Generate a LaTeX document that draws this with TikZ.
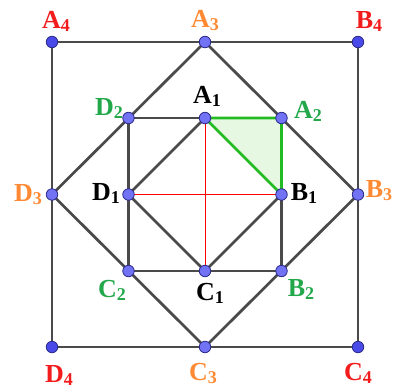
\documentclass[tikz,border=0pt]{standalone}
\usepackage{fontspec}
\setmainfont{Liberation Serif}
\definecolor{lred}{HTML}{F21C1C}
\definecolor{lorange}{HTML}{FF8A33}
\definecolor{lgreen}{HTML}{22A84A}
\definecolor{ptfill}{HTML}{7272F5}
\definecolor{ptdark}{HTML}{4A4AE8}
\definecolor{edge}{HTML}{4A4A4A}
\definecolor{trifill}{HTML}{E6F8E2}
\definecolor{trigreen}{HTML}{22BB22}
\newcommand{\lab}[2]{\textbf{#1\raisebox{-3pt}{\fontsize{18}{18}\selectfont #2}}}
\begin{document}
\begin{tikzpicture}[x=1pt,y=-1pt,
  pt/.style={circle,fill=ptfill,draw=ptdark!60!black,line width=0.8pt,inner sep=0pt,minimum size=11.5pt},
  ptc/.style={pt,fill=ptdark},
  seg/.style={draw=edge,line width=2.7pt},
  redl/.style={draw=red,line width=0.9pt},
  lbl/.style={font=\fontsize{26}{26}\selectfont,inner sep=0pt}]
\useasboundingbox (0,0) rectangle (394,389);
% coordinates
\coordinate (A4) at (52,42);
\coordinate (B4) at (358,42);
\coordinate (C4) at (358,347);
\coordinate (D4) at (52,347);
\coordinate (A3) at (205,42);
\coordinate (B3) at (358,194.5);
\coordinate (C3) at (205,347);
\coordinate (D3) at (52,194.5);
\coordinate (D2) at (128.5,118);
\coordinate (A2) at (281.5,118);
\coordinate (B2) at (281.5,271);
\coordinate (C2) at (128.5,271);
\coordinate (A1) at (205,118);
\coordinate (B1) at (281.5,194.5);
\coordinate (C1) at (205,271);
\coordinate (D1) at (128.5,194.5);
% green triangle
\fill[trifill] (A1) -- (A2) -- (B1) -- cycle;
% red lines
\draw[redl] (A1) -- (C1);
\draw[redl] (D1) -- (B1);
% squares
\draw[seg] (A4) -- (B4) -- (C4) -- (D4) -- cycle;
\draw[seg] (A3) -- (B3) -- (C3) -- (D3) -- cycle;
\draw[seg] (D2) -- (A1);
\draw[seg] (B2) -- (C2) -- (D2);
\draw[seg] (B1) -- (B2);
\draw[seg] (A1) -- (D1) -- (C1) -- (B1);
\draw[trigreen,line width=2.7pt,line join=round] (A1) -- (A2) -- (B1) -- cycle;
% points
\foreach \p in {A4,B4,C4,D4} \node[ptc] at (\p) {};
\foreach \p in {A3,B3,C3,D3,A2,B2,C2,D2,A1,B1,C1,D1} \node[pt] at (\p) {};
% labels
\node[lbl,text=lred] (lA4) at (56,21) {\lab{A}{4}};
\node[lbl,text=lred] (lB4) at (369,21) {\lab{B}{4}};
\node[lbl,text=lred] (lC4) at (358,373) {\lab{C}{4}};
\node[lbl,text=lred] (lD4) at (59,375) {\lab{D}{4}};
\node[lbl,text=lorange] (lA3) at (205,21) {\lab{A}{3}};
\node[lbl,text=lorange] (lB3) at (379,191) {\lab{B}{3}};
\node[lbl,text=lorange] (lC3) at (203,373) {\lab{C}{3}};
\node[lbl,text=lorange] (lD3) at (28,195) {\lab{D}{3}};
\node[lbl,text=lgreen] (lD2) at (109,108) {\lab{D}{2}};
\node[lbl,text=lgreen] (lA2) at (308,111) {\lab{A}{2}};
\node[lbl,text=lgreen] (lB2) at (301,289) {\lab{B}{2}};
\node[lbl,text=lgreen] (lC2) at (112,290) {\lab{C}{2}};
\node[lbl] (lA1) at (207,96) {\lab{A}{1}};
\node[lbl] (lB1) at (304,193) {\lab{B}{1}};
\node[lbl] (lC1) at (210,293) {\lab{C}{1}};
\node[lbl] (lD1) at (106,193) {\lab{D}{1}};
\end{tikzpicture}
\end{document}
